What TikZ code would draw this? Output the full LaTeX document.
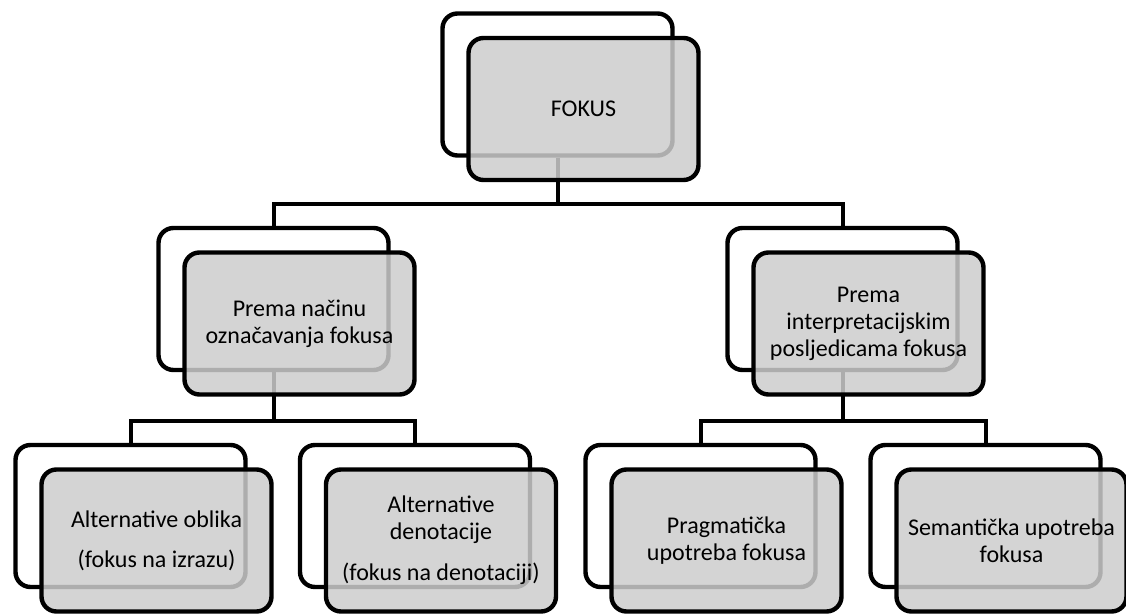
\documentclass[tikz,border=0pt]{standalone}
\usepackage{fontspec}
\setmainfont{Carlito}
\usetikzlibrary{positioning}

\begin{document}
\begin{tikzpicture}[
  x=0.5pt, y=-0.5pt,
  shadowbox/.style={draw, line width=2.2pt, rounded corners=7.5pt, minimum width=115pt, minimum height=71pt},
  mainbox/.style={shadowbox, fill=black!20, fill opacity=0.85, text opacity=1, align=center,
    font=\fontsize{12}{13.5}\selectfont, xshift=13pt, yshift=-12.25pt},
  conn/.style={line width=2pt}
]
  \useasboundingbox (0,0) rectangle (1126,614);
  % back layer
  \node[shadowbox] (fokusbg) at (557.5,84.5) {};
  \node[shadowbox] (nacinbg) at (273.5,299) {};
  \node[shadowbox] (interpbg) at (842.5,299) {};
  \node[shadowbox] (oblikbg) at (130.5,516) {};
  \node[shadowbox] (denotbg) at (415,516) {};
  \node[shadowbox] (pragbg) at (700.5,516) {};
  \node[shadowbox] (semanbg) at (985.5,516) {};
  % connectors
  \coordinate (row1) at (0,204);
  \coordinate (row2) at (0,421);
  \draw[conn] (fokusbg.south) -- (fokusbg.south |- row1) -| (nacinbg.north);
  \draw[conn] (fokusbg.south |- row1) -| (interpbg.north);
  \draw[conn] (nacinbg.south) -- (nacinbg.south |- row2) -| (oblikbg.north);
  \draw[conn] (nacinbg.south |- row2) -| (denotbg.north);
  \draw[conn] (interpbg.south) -- (interpbg.south |- row2) -| (pragbg.north);
  \draw[conn] (interpbg.south |- row2) -| (semanbg.north);
  % front layer
  \node[mainbox] (fokus) at (fokusbg) {FOKUS};
  \node[mainbox] (nacin) at (nacinbg) {Prema načinu\\označavanja fokusa};
  \node[mainbox] (interp) at (interpbg) {Prema\\interpretacijskim\\posljedicama fokusa};
  \node[mainbox] (oblik) at (oblikbg) {Alternative oblika\\[6.5pt] (fokus na izrazu)};
  \node[mainbox] (denot) at (denotbg) {Alternative\\denotacije\\[7pt](fokus na denotaciji)};
  \node[mainbox] (prag) at (pragbg) {Pragmatička\\upotreba fokusa};
  \node[mainbox] (seman) at (semanbg) {Semantička upotreba\\fokusa};
\end{tikzpicture}
\end{document}
